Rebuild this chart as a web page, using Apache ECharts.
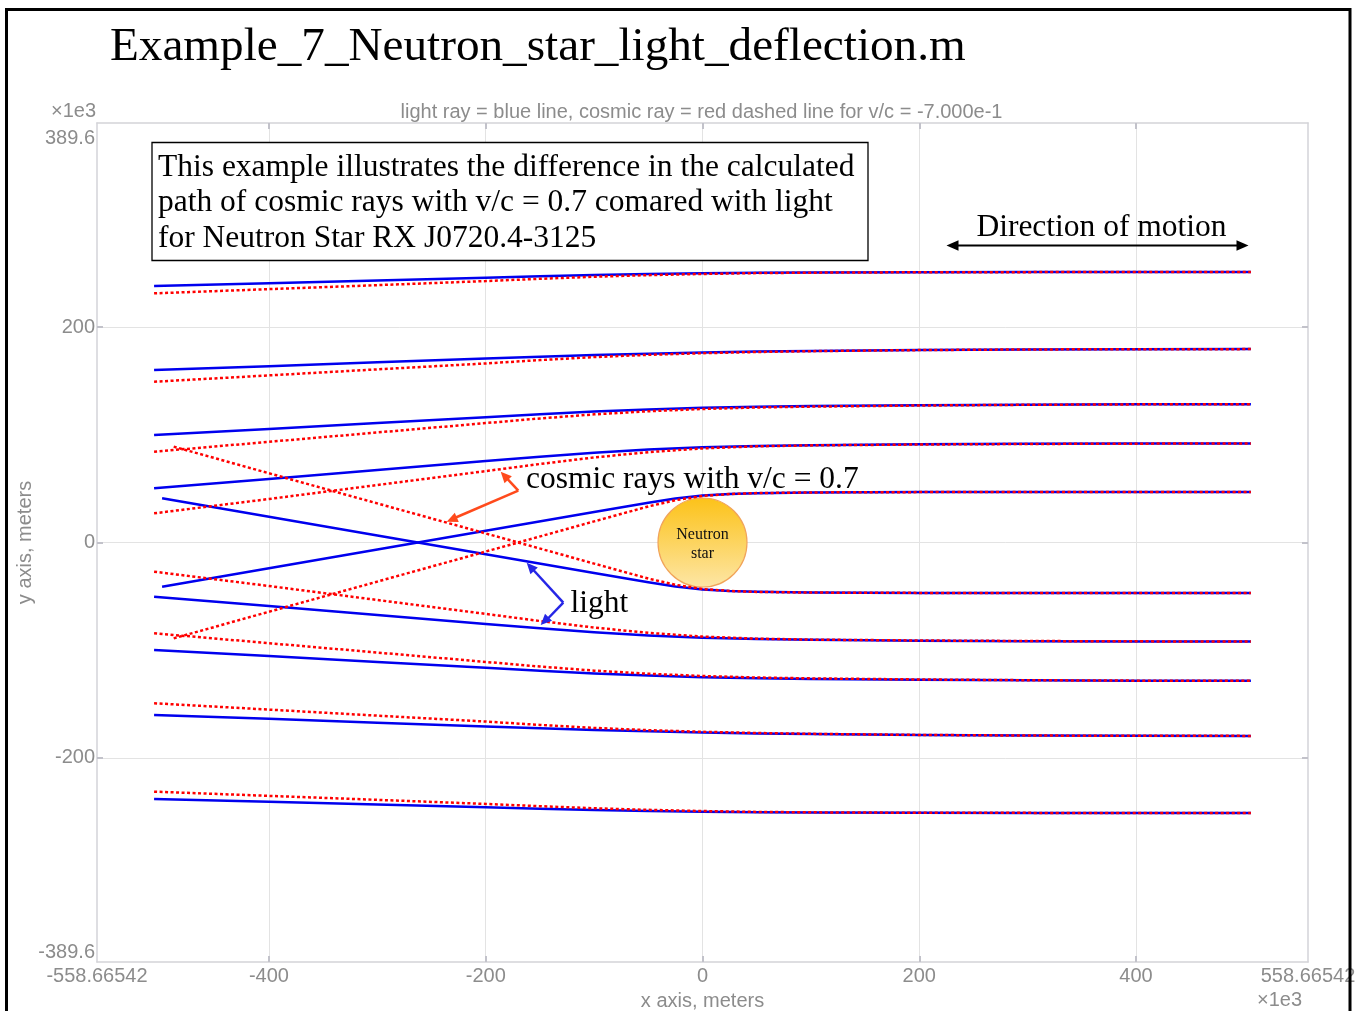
<!DOCTYPE html>
<html>
<head>
<meta charset="utf-8">
<title>Example_7_Neutron_star_light_deflection.m</title>
<script src="https://cdn.jsdelivr.net/npm/echarts@6/dist/echarts.min.js"></script>
<style>
  html, body { margin: 0; padding: 0; background: #fff; }
  #chart { width: 1356px; height: 1011px; }
</style>
</head>
<body>
<div id="chart"></div>
<script>
// ---- Ray paths (x, y in units of 1e3 m). Rays enter from the right and bend round the star at the origin.
const rayX = [-506, -400, -300, -200, -150, -100, -50, 0, 50, 100, 200, 300, 400, 506];

const light1  = [238.2, 240.8, 243.3, 245.8, 247.2, 248.4, 249.3, 250.0, 250.5, 250.8, 251.1, 251.2, 251.2, 251.2];
const cosmic1 = [231.4, 235.3, 239.0, 242.8, 244.9, 246.8, 248.3, 249.4, 250.2, 250.6, 251.0, 251.1, 251.2, 251.2];
const light2  = [160.2, 163.8, 167.3, 170.8, 172.5, 174.1, 175.4, 176.4, 177.3, 177.9, 178.8, 179.3, 179.5, 179.6];
const cosmic2 = [149.3, 155.2, 160.8, 166.3, 169.4, 172.2, 174.3, 175.8, 176.9, 177.7, 178.7, 179.3, 179.5, 179.6];
const light3  = [99.8, 105.5, 110.9, 116.3, 119.1, 121.6, 123.6, 125.2, 126.1, 126.7, 127.4, 128.0, 128.3, 128.5];
const cosmic3 = [84.3, 93.5, 102.2, 110.9, 115.2, 119.0, 121.9, 124.0, 125.4, 126.2, 127.2, 127.9, 128.3, 128.5];
const light4  = [50.3, 59.0, 67.3, 75.6, 79.6, 83.4, 86.3, 88.4, 89.7, 90.4, 91.2, 91.6, 91.9, 92.0];
const cosmic4 = [27.1, 40.4, 53.4, 66.3, 72.9, 79.0, 83.9, 87.4, 89.3, 90.2, 91.0, 91.5, 91.8, 92.0];

// the two innermost rays cross the axis, so they use their own x samples
const crossLightX  = [-498.6, -400, -300, -200, -100, -50, -25, 0, 25, 50, 100, 200, 300, 506];
const crossCosmicX = [-487.9, -400, -300, -200, -100, -50, -25, 0, 25, 50, 100, 200, 300, 506];
const light5  = [-41.1, -23.9, -6.5, 10.9, 28.3, 37.0, 40.8, 43.6, 45.0, 45.8, 46.4, 46.8, 46.9, 46.9];
const cosmic5 = [-89.0, -64.3, -36.3, -8.4, 19.6, 33.5, 39.3, 43.2, 45.0, 45.9, 46.5, 46.8, 46.9, 46.9];
const light6  = [41.1, 23.9, 6.5, -10.9, -28.3, -37.0, -40.8, -43.6, -45.0, -45.8, -46.4, -46.8, -46.9, -46.9];
const cosmic6 = [89.0, 64.3, 36.3, 8.4, -19.6, -33.5, -39.3, -43.2, -45.0, -45.9, -46.5, -46.8, -46.9, -46.9];

const light7  = [-50.3, -59.0, -67.3, -75.6, -79.6, -83.4, -86.3, -88.4, -89.7, -90.4, -91.2, -91.6, -91.9, -92.0];
const cosmic7 = [-27.1, -40.4, -53.4, -66.3, -72.9, -79.0, -83.9, -87.4, -89.3, -90.2, -91.0, -91.5, -91.8, -92.0];
const light8  = [-99.8, -105.5, -110.9, -116.3, -119.1, -121.6, -123.6, -125.2, -126.1, -126.7, -127.4, -128.0, -128.3, -128.5];
const cosmic8 = [-84.3, -93.5, -102.2, -110.9, -115.2, -119.0, -121.9, -124.0, -125.4, -126.2, -127.2, -127.9, -128.3, -128.5];
const light9  = [-160.2, -163.8, -167.3, -170.8, -172.5, -174.1, -175.4, -176.4, -177.3, -177.9, -178.8, -179.3, -179.5, -179.6];
const cosmic9 = [-149.3, -155.2, -160.8, -166.3, -169.4, -172.2, -174.3, -175.8, -176.9, -177.7, -178.7, -179.3, -179.5, -179.6];
const light10  = [-238.2, -240.8, -243.3, -245.8, -247.2, -248.4, -249.3, -250.0, -250.5, -250.8, -251.1, -251.2, -251.2, -251.2];
const cosmic10 = [-231.4, -235.3, -239.0, -242.8, -244.9, -246.8, -248.3, -249.4, -250.2, -250.6, -251.0, -251.1, -251.2, -251.2];

// star position
const starPos = [0, 0];

// ---- Axes
const xLimit = 558.66542;
const yLimit = 389.6;
const xTickValues  = [-400, -200, 0, 200, 400];
const xLabelValues = [-558.66542, -400, -200, 0, 200, 400, 558.66542];
const yTickValues  = [-200, 0, 200];
const yLabelValues = [-389.6, -200, 0, 200, 389.6];

const SANS  = '"Liberation Sans", Arial, Helvetica, sans-serif';
const SERIF = '"Liberation Serif", "Times New Roman", Times, serif';
const GRAY  = '#8c8c8c';
const BOX   = '#d3d3d8';
const TICK  = '#c2c2ca';
const GRID  = '#e3e3e3';
const SANS_SIZE = 20;

function pairs(xs, ys) { return xs.map((x, i) => [x, ys[i]]); }

function ray(name, xs, ys, kind) {
  const isLight = kind === 'light';
  return {
    type: 'line', name: name, data: pairs(xs, ys),
    symbol: 'none', showSymbol: false, smooth: false,
    silent: true, z: isLight ? 3 : 4,
    lineStyle: isLight
      ? { color: '#0000ee', width: 2.5, join: 'round' }
      : { color: '#ff0000', width: 2.5, type: [3, 2.5] }
  };
}

const series = [
  {
    type: 'scatter', name: 'Neutron star', data: [starPos], symbolSize: 89, z: 2, silent: true,
    itemStyle: {
      color: new echarts.graphic.LinearGradient(0, 0, 0, 1, [
        { offset: 0, color: '#fcc218' },
        { offset: 1, color: '#fde6a6' }
      ]),
      borderColor: '#f1a45a', borderWidth: 1.2, opacity: 1
    },
    label: {
      show: true, position: 'inside', formatter: 'Neutron\nstar', offset: [0, 2],
      fontFamily: SERIF, fontSize: 16, lineHeight: 19, color: '#111'
    }
  },
  ray('light 1', rayX, light1, 'light'),   ray('cosmic 1', rayX, cosmic1, 'cosmic'),
  ray('light 2', rayX, light2, 'light'),   ray('cosmic 2', rayX, cosmic2, 'cosmic'),
  ray('light 3', rayX, light3, 'light'),   ray('cosmic 3', rayX, cosmic3, 'cosmic'),
  ray('light 4', rayX, light4, 'light'),   ray('cosmic 4', rayX, cosmic4, 'cosmic'),
  ray('light 5', crossLightX, light5, 'light'), ray('cosmic 5', crossCosmicX, cosmic5, 'cosmic'),
  ray('light 6', crossLightX, light6, 'light'), ray('cosmic 6', crossCosmicX, cosmic6, 'cosmic'),
  ray('light 7', rayX, light7, 'light'),   ray('cosmic 7', rayX, cosmic7, 'cosmic'),
  ray('light 8', rayX, light8, 'light'),   ray('cosmic 8', rayX, cosmic8, 'cosmic'),
  ray('light 9', rayX, light9, 'light'),   ray('cosmic 9', rayX, cosmic9, 'cosmic'),
  ray('light 10', rayX, light10, 'light'), ray('cosmic 10', rayX, cosmic10, 'cosmic')
];

const boxLine  = { show: true, onZero: false, lineStyle: { color: BOX, width: 1.5 } };
const labelFont = { color: GRAY, fontFamily: SANS, fontSize: SANS_SIZE };

// ---- Annotation helpers
function arrowHead(tipX, tipY, fromX, fromY, len, half, color) {
  const dx = tipX - fromX, dy = tipY - fromY;
  const d = Math.hypot(dx, dy), ux = dx / d, uy = dy / d;
  const bx = tipX - ux * len, by = tipY - uy * len;
  return {
    type: 'polygon', z: 50, silent: true,
    shape: { points: [[tipX, tipY], [bx - uy * half, by + ux * half], [bx + uy * half, by - ux * half]] },
    style: { fill: color }
  };
}
function seg(x1, y1, x2, y2, color, w) {
  return { type: 'line', z: 50, silent: true, shape: { x1, y1, x2, y2 }, style: { stroke: color, lineWidth: w } };
}
function txt(text, x, y, font, size, color, align) {
  return {
    type: 'text', z: 50, silent: true,
    style: { text, x, y, fontFamily: font, fontSize: size, fill: color, align: align || 'left', verticalAlign: 'middle' }
  };
}

const ORANGE = '#ff4a1c';
const ARROWBLUE = '#2626e6';
const BOX_FONT = 31.5;

const graphic = [
  // slide title
  txt('Example_7_Neutron_star_light_deflection.m', 110, 47.5, SERIF, 47.2, '#000'),
  // axis exponent markers
  txt('\u00d71e3', 96, 111.5, SANS, SANS_SIZE, GRAY, 'right'),
  txt('\u00d71e3', 1302, 1000, SANS, SANS_SIZE, GRAY, 'right'),
  // chart subtitle
  txt('light ray = blue line, cosmic ray = red dashed line for v/c = -7.000e-1', 701.5, 112, SANS, SANS_SIZE, GRAY, 'center'),
  // description box
  {
    type: 'rect', z: 40, silent: true,
    shape: { x: 152, y: 142.5, width: 716, height: 118 },
    style: { fill: '#fff', stroke: '#000', lineWidth: 1.3 }
  },
  txt('This example illustrates the difference in the calculated', 158, 167.5, SERIF, BOX_FONT, '#000'),
  txt('path of cosmic rays with v/c = 0.7 comared with light', 158, 203, SERIF, BOX_FONT, '#000'),
  txt('for Neutron Star RX J0720.4-3125', 158, 239, SERIF, BOX_FONT, '#000'),
  // direction of motion
  txt('Direction of motion', 1101.5, 227.5, SERIF, BOX_FONT, '#000', 'center'),
  seg(955, 245.5, 1240, 245.5, '#000', 2),
  arrowHead(946.5, 245.5, 1000, 245.5, 12, 5.3, '#000'),
  arrowHead(1248.5, 245.5, 1200, 245.5, 12, 5.3, '#000'),
  // cosmic ray callout
  txt('cosmic rays with v/c = 0.7', 526, 480, SERIF, BOX_FONT, '#000'),
  seg(518.3, 490.7, 505.5, 476.9, ORANGE, 2.5),
  seg(518.3, 490.7, 455.8, 517.5, ORANGE, 2.5),
  arrowHead(500.7, 471.7, 518.3, 490.7, 11, 5, ORANGE),
  arrowHead(446.7, 521.7, 518.3, 490.7, 11, 5, ORANGE),
  // light callout
  txt('light', 570.5, 603.4, SERIF, BOX_FONT, '#000'),
  seg(563.3, 602.7, 533.4, 570, ARROWBLUE, 2.5),
  seg(563.3, 602.7, 547.5, 619, ARROWBLUE, 2.5),
  arrowHead(526.7, 562.7, 563.3, 602.7, 11, 5, ARROWBLUE),
  arrowHead(540.7, 625, 563.3, 602.7, 11, 5, ARROWBLUE),
  // slide frame
  {
    type: 'rect', z: 100, silent: true,
    shape: { x: 6.5, y: 9.5, width: 1343.5, height: 1030 },
    style: { fill: 'none', stroke: '#000', lineWidth: 3 }
  }
];

const option = {
  animation: false,
  backgroundColor: '#fff',
  grid: { left: 97, top: 123, right: 48, bottom: 49, containLabel: false, outerBoundsMode: 'none' },
  xAxis: [
    {
      type: 'value', position: 'bottom', min: -xLimit, max: xLimit,
      axisLine: boxLine,
      axisTick: { show: true, inside: true, length: 6, customValues: xTickValues, lineStyle: { color: TICK, width: 2 } },
      axisLabel: Object.assign({ customValues: xLabelValues, margin: 4, formatter: v => String(v) }, labelFont),
      splitLine: { show: true, lineStyle: { color: GRID, width: 1 } },
      name: 'x axis, meters', nameLocation: 'middle', nameGap: 29, nameMoveOverlap: false,
      nameTextStyle: { color: GRAY, fontFamily: SANS, fontSize: SANS_SIZE }
    },
    {
      type: 'value', position: 'top', min: -xLimit, max: xLimit,
      axisLine: boxLine,
      axisTick: { show: true, inside: true, length: 6, customValues: xTickValues, lineStyle: { color: TICK, width: 2 } },
      axisLabel: { show: false }, splitLine: { show: false }
    }
  ],
  yAxis: [
    {
      type: 'value', position: 'left', min: -yLimit, max: yLimit,
      axisLine: boxLine,
      axisTick: { show: true, inside: true, length: 6, customValues: yTickValues, lineStyle: { color: TICK, width: 2 } },
      axisLabel: Object.assign({
        customValues: yLabelValues, margin: 2,
        formatter: v => (v === yLimit ? '{edge|' + v + '}' : String(v)),
        rich: { edge: { color: GRAY, fontFamily: SANS, fontSize: SANS_SIZE, padding: [5, 0, 0, 0] } },
        verticalAlignMaxLabel: 'top', verticalAlignMinLabel: 'bottom'
      }, labelFont),
      splitLine: { show: true, lineStyle: { color: GRID, width: 1 } },
      name: 'y axis, meters', nameLocation: 'middle', nameGap: 62, nameMoveOverlap: false,
      nameTextStyle: { color: GRAY, fontFamily: SANS, fontSize: SANS_SIZE }
    },
    {
      type: 'value', position: 'right', min: -yLimit, max: yLimit,
      axisLine: boxLine,
      axisTick: { show: true, inside: true, length: 6, customValues: yTickValues, lineStyle: { color: TICK, width: 2 } },
      axisLabel: { show: false }, splitLine: { show: false }
    }
  ],
  series: series,
  graphic: graphic
};

const chart = echarts.init(document.getElementById('chart'), null, { renderer: 'canvas' });
chart.setOption(option);
</script>
</body>
</html>
